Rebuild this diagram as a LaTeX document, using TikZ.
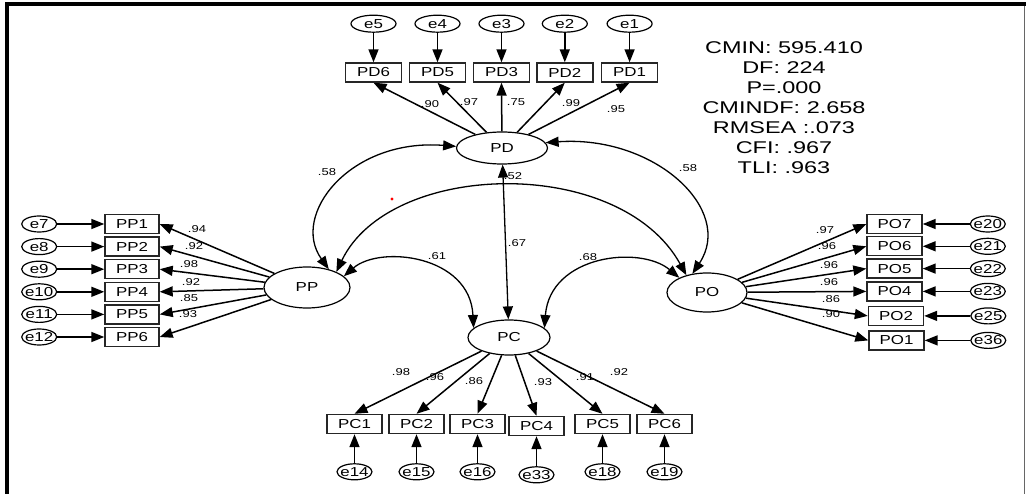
\documentclass[tikz,border=0pt]{standalone}
\usepackage{fontspec}
\setmainfont{Liberation Sans}[FakeStretch=1.3]
\newfontfamily\statfont{Liberation Sans}[FakeStretch=1.38]
\usetikzlibrary{positioning,shapes.geometric,arrows.meta}

\begin{document}
\begin{tikzpicture}[x=1pt, y=-1pt,
    box/.style={draw=black!85, line width=1.4pt, minimum width=55pt, minimum height=19pt, inner sep=0pt, font=\fontsize{13}{14}\selectfont},
    err/.style={draw, ellipse, line width=1.2pt, minimum width=35pt, minimum height=16pt, inner xsep=-2pt, inner ysep=0pt, font=\fontsize{13}{14}\selectfont},
    lat/.style={draw, ellipse, line width=1.2pt, inner sep=0pt, font=\fontsize{13}{14}\selectfont},
    lbl/.style={inner sep=0pt, font=\fontsize{10}{11}\selectfont},
    ld/.style={-{Triangle[length=13pt,width=10pt]}, line width=1.5pt},
    cov/.style={{Triangle[length=13pt,width=10pt]}-{Triangle[length=13pt,width=10pt]}, line width=1.3pt}]
    \useasboundingbox (0,0) rectangle (1026,494);
    % frame
    \fill (5,2) rectangle (1026,6);
    \fill (5,2) rectangle (9,494);
    \draw[black!60, line width=1pt] (1024,6) -- (1024,494);

    % latent variables
    \node[lat, minimum width=91pt, minimum height=32pt] (pd) at (502,148) {PD};
    \node[lat, minimum width=86pt, minimum height=41pt] (pp) at (307,287.5) {PP};
    \node[lat, minimum width=80pt, minimum height=39pt] (po) at (707,292.5) {PO};
    \node[lat, minimum width=82pt, minimum height=35pt] (pc) at (509,337.5) {PC};

    % PD items
    \node[box, minimum width=56pt] (pd6) at (373.5,72.5) {PD6};
    \node[box, minimum width=56pt, right=6.6pt of pd6] (pd5) {PD5};
    \node[box, minimum width=56pt, right=6.6pt of pd5] (pd3) {PD3};
    \node[box, minimum width=56pt, right=5.9pt of pd3] (pd2) {PD2};
    \node[box, minimum width=56pt, right=7.4pt of pd2] (pd1) {PD1};
    \node[err, minimum width=45pt, minimum height=17pt, above=29.5pt of pd6] (e5) {e5};
    \node[err, minimum width=45pt, minimum height=17pt, above=29.5pt of pd5] (e4) {e4};
    \node[err, minimum width=45pt, minimum height=17pt, above=29.5pt of pd3] (e3) {e3};
    \node[err, minimum width=45pt, minimum height=17pt, above=29.5pt of pd2] (e2) {e2};
    \node[err, minimum width=45pt, minimum height=17pt, above=29.5pt of pd1] (e1) {e1};

    % PP items
    \node[box, minimum width=54pt] (pp1) at (132,224) {PP1};
    \node[box, minimum width=54pt, below=2.2pt of pp1] (pp2) {PP2};
    \node[box, minimum width=54pt, below=2.2pt of pp2] (pp3) {PP3};
    \node[box, minimum width=54pt, below=2.2pt of pp3] (pp4) {PP4};
    \node[box, minimum width=54pt, below=2.2pt of pp4] (pp5) {PP5};
    \node[box, minimum width=54pt, below=2.2pt of pp5] (pp6) {PP6};
    \node[err, left=47pt of pp1] (e7) {e7};
    \node[err, left=47pt of pp2] (e8) {e8};
    \node[err, left=47pt of pp3] (e9) {e9};
    \node[err, left=47pt of pp4] (e10) {e10};
    \node[err, left=47pt of pp5] (e11) {e11};
    \node[err, left=47pt of pp6] (e12) {e12};

    % PO items
    \node[box] (po7) at (894.5,224) {PO7};
    \node[box, below=1.9pt of po7] (po6) {PO6};
    \node[box, below=1.9pt of po6] (po5) {PO5};
    \node[box, below=2.4pt of po5] (po4) {PO4};
    \node[box, below=4.1pt of po4, xshift=1.5pt] (po2) {PO2};
    \node[box, below=4.1pt of po2, xshift=0.5pt] (po1) {PO1};
    \node[err, right=47pt of po7] (e20) {e20};
    \node[err, right=47pt of po6] (e21) {e21};
    \node[err, right=47pt of po5] (e22) {e22};
    \node[err, right=47pt of po4] (e23) {e23};
    \node[err, right=46pt of po2] (e25) {e25};
    \node[err, right=45.5pt of po1] (e36) {e36};

    % PC items
    \node[box] (pc1) at (354.5,424) {PC1};
    \node[box, right=5.6pt of pc1] (pc2) {PC2};
    \node[box, right=4.6pt of pc2] (pc3) {PC3};
    \node[box, right=2.6pt of pc3, yshift=-2pt] (pc4) {PC4};
    \node[box, right=9.6pt of pc4, yshift=2pt] (pc5) {PC5};
    \node[box, right=5.6pt of pc5] (pc6) {PC6};
    \node[err, below=29pt of pc1] (e14) {e14};
    \node[err, below=29pt of pc2] (e15) {e15};
    \node[err, below=29pt of pc3] (e16) {e16};
    \node[err, below=30pt of pc4] (e33) {e33};
    \node[err, below=29pt of pc5] (e18) {e18};
    \node[err, below=29pt of pc6] (e19) {e19};

    % error terms
    \draw[ld] (e5) -- (pd6);
    \draw[ld] (e4) -- (pd5);
    \draw[ld] (e3) -- (pd3);
    \draw[ld] (e2) -- (pd2);
    \draw[ld] (e1) -- (pd1);
    \draw[ld] (e7) -- (pp1);
    \draw[ld] (e8) -- (pp2);
    \draw[ld] (e9) -- (pp3);
    \draw[ld] (e10) -- (pp4);
    \draw[ld] (e11) -- (pp5);
    \draw[ld] (e12) -- (pp6);
    \draw[ld] (e20) -- (po7);
    \draw[ld] (e21) -- (po6);
    \draw[ld] (e22) -- (po5);
    \draw[ld] (e23) -- (po4);
    \draw[ld] (e25) -- (po2);
    \draw[ld] (e36) -- (po1);
    \draw[ld] (e14) -- (pc1);
    \draw[ld] (e15) -- (pc2);
    \draw[ld] (e16) -- (pc3);
    \draw[ld] (e33) -- (pc4);
    \draw[ld] (e18) -- (pc5);
    \draw[ld] (e19) -- (pc6);

    % loadings
    \draw[ld] (pd) -- (pd6.south);
    \draw[ld] (pd) -- (pd5.south);
    \draw[ld] (pd) -- (pd3.south);
    \draw[ld] (pd) -- (pd2.south);
    \draw[ld] (pd) -- (pd1.south);
    \draw[ld] (pp) -- (pp1.east);
    \draw[ld] (pp) -- (pp2.east);
    \draw[ld] (pp) -- (pp3.east);
    \draw[ld] (pp) -- (pp4.east);
    \draw[ld] (pp) -- (pp5.east);
    \draw[ld] (pp) -- (pp6.east);
    \draw[ld] (po) -- (po7.west);
    \draw[ld] (po) -- (po6.west);
    \draw[ld] (po) -- (po5.west);
    \draw[ld] (po) -- (po4.west);
    \draw[ld] (po) -- (po2.west);
    \draw[ld] (po) -- (po1.west);
    \draw[ld] (pc) -- (pc1.north);
    \draw[ld] (pc) -- (pc2.north);
    \draw[ld] (pc) -- (pc3.north);
    \draw[ld] (pc) -- (pc4.north);
    \draw[ld] (pc) -- (pc5.north);
    \draw[ld] (pc) -- (pc6.north);

    % covariances
    \draw[cov] (pd.178) .. controls (350,138) and (290,215) .. (pp.40);
    \draw[cov] (pd.7) .. controls (655,135) and (735,210) .. (po.128);
    \draw[cov] (pp.28) .. controls (390,160) and (620,155) .. (po.140);
    \draw[cov] (pp.17) .. controls (380,245) and (470,255) .. (pc.165);
    \draw[cov] (po.152) .. controls (640,245) and (550,255) .. (pc.15);
    \draw[cov] (pd) -- (pc);
    \fill[red] (392,199) circle (1.6pt);

    % estimates
    \node[lbl] (l1) at (430,104) {.90};
    \node[lbl] (l2) at (469,102) {.97};
    \node[lbl] (l3) at (516,102) {.75};
    \node[lbl] (l4) at (571,103) {.99};
    \node[lbl] (l5) at (616,109) {.95};
    \node[lbl] (l6) at (197,229) {.94};
    \node[lbl] (l7) at (194,246) {.92};
    \node[lbl] (l8) at (189,264) {.98};
    \node[lbl] (l9) at (191,282) {.92};
    \node[lbl] (l10) at (189,298) {.85};
    \node[lbl] (l11) at (188,314) {.93};
    \node[lbl] (l12) at (825,230) {.97};
    \node[lbl] (l13) at (827,246) {.96};
    \node[lbl] (l14) at (829,265) {.96};
    \node[lbl] (l15) at (829,282) {.96};
    \node[lbl] (l16) at (831,299) {.86};
    \node[lbl] (l17) at (831,314) {.90};
    \node[lbl] (l18) at (401,372) {.98};
    \node[lbl] (l19) at (435,377) {.96};
    \node[lbl] (l20) at (474,381) {.86};
    \node[lbl] (l21) at (543,382) {.93};
    \node[lbl] (l22) at (585,377) {.91};
    \node[lbl] (l23) at (619,372) {.92};
    \node[lbl] (c1) at (327,172) {.58};
    \node[lbl] (c2) at (688,168) {.58};
    \node[lbl] (c3) at (513,176) {.52};
    \node[lbl] (c4) at (517,243) {.67};
    \node[lbl] (c5) at (437,256) {.61};
    \node[lbl] (c6) at (588,257) {.68};

    % fit indices
    \node[font=\statfont\fontsize{17}{20}\selectfont, align=center, anchor=north, inner sep=0pt] (fit) at (784,41)
        {CMIN: 595.410\\DF: 224\\P=.000\\CMINDF: 2.658\\RMSEA :.073\\CFI: .967\\TLI: .963};
\end{tikzpicture}
\end{document}
